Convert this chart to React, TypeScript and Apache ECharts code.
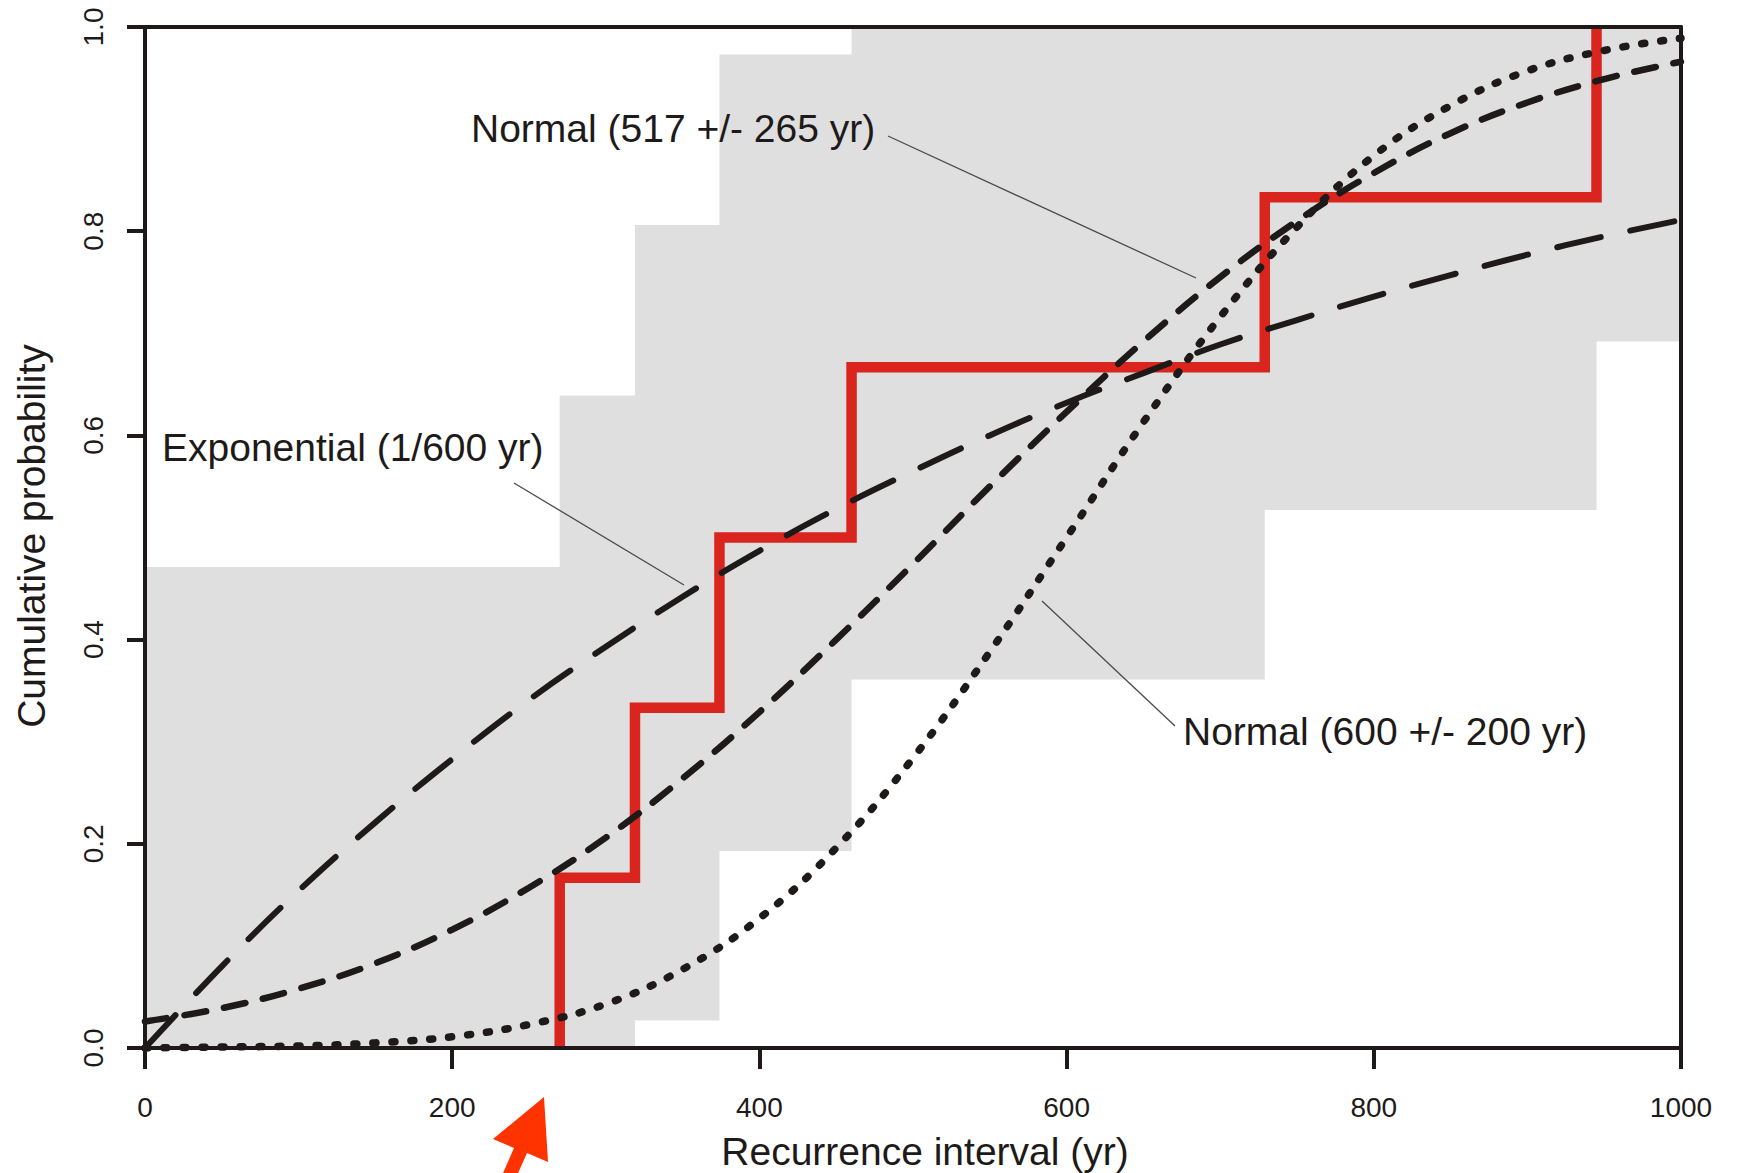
import React, { useEffect, useRef } from "react";
import * as echarts from "echarts";

// ---- data ----
const xGrid = [0, 50, 100, 150, 200, 250, 300, 350, 400, 450, 500, 550, 600, 650, 700, 750, 800, 850, 900, 950, 1000];
const exponentialCdf = [0, 0.08, 0.154, 0.221, 0.283, 0.341, 0.393, 0.442, 0.487, 0.528, 0.565, 0.6, 0.632, 0.661, 0.689, 0.713, 0.736, 0.757, 0.777, 0.795, 0.811];
const normal517Cdf = [0.026, 0.039, 0.058, 0.083, 0.116, 0.157, 0.206, 0.264, 0.329, 0.4, 0.474, 0.55, 0.623, 0.692, 0.755, 0.81, 0.857, 0.896, 0.926, 0.949, 0.966];
const normal600Cdf = [0.0, 0.001, 0.002, 0.005, 0.011, 0.023, 0.043, 0.077, 0.127, 0.196, 0.284, 0.388, 0.5, 0.613, 0.716, 0.804, 0.874, 0.923, 0.957, 0.977, 0.989];

const eventIntervals = [270, 319, 374, 460, 729, 945];
const ecdfLevels = [1 / 6, 2 / 6, 3 / 6, 4 / 6, 5 / 6, 1];

const bandUpperX = [0, 270, 319, 374, 460, 1000];
const bandUpperY = [0.471, 0.639, 0.806, 0.973, 1, 1];
const bandLowerX = [0, 319, 374, 460, 729, 945, 1000];
const bandLowerY = [0, 0.027, 0.193, 0.361, 0.527, 0.692, 0.692];

const labelNormal517 = "Normal (517 +/- 265 yr)";
const labelExponential = "Exponential (1/600 yr)";
const labelNormal600 = "Normal (600 +/- 200 yr)";
const xTitle = "Recurrence interval (yr)";
const yTitle = "Cumulative probability";

const ink = "#1e1a19";
const red = "#d9251d";
const grey = "#dfdfdf";
const font = "'Liberation Sans', Arial, Helvetica, sans-serif";

const zip = (xs: number[], ys: number[]) => xs.map((x, i) => [x, ys[i]]);

export default function App() {
  const ref = useRef<HTMLDivElement>(null);

  useEffect(() => {
    if (!ref.current) return;
    const chart = echarts.init(ref.current, undefined, { renderer: "svg" });

    const ecdfData = [[eventIntervals[0], 0], ...zip(eventIntervals, ecdfLevels)];

    const axisCommon = {
      splitLine: { show: false },
      z: 10,
    };

    const option: any = {
      animation: false,
      backgroundColor: "#ffffff",
      grid: { left: 145, top: 27, right: 58, bottom: 125, containLabel: false },
      xAxis: [
        {
          ...axisCommon,
          type: "value",
          position: "bottom",
          min: 0,
          max: 1000,
          interval: 200,
          axisLine: { show: true, onZero: false, lineStyle: { color: ink, width: 4 } },
          axisTick: { show: true, length: 21, lineStyle: { color: ink, width: 4 } },
          axisLabel: {
            margin: 45,
            fontSize: 28,
            color: ink,
            fontFamily: font,
            formatter: (v: number) => String(Math.round(v)),
          },
        },
        {
          ...axisCommon,
          type: "value",
          position: "top",
          min: 0,
          max: 1000,
          axisLine: { show: true, onZero: false, lineStyle: { color: ink, width: 4 } },
          axisTick: { show: false },
          axisLabel: { show: false },
        },
      ],
      yAxis: [
        {
          ...axisCommon,
          type: "value",
          position: "left",
          min: 0,
          max: 1,
          interval: 0.2,
          axisLine: { show: true, onZero: false, lineStyle: { color: ink, width: 4 } },
          axisTick: { show: true, length: 18, lineStyle: { color: ink, width: 4 } },
          axisLabel: {
            rotate: 90,
            margin: 38,
            fontSize: 28,
            color: ink,
            fontFamily: font,
            formatter: (v: number) => v.toFixed(1),
          },
        },
        {
          ...axisCommon,
          type: "value",
          position: "right",
          min: 0,
          max: 1,
          axisLine: { show: true, onZero: false, lineStyle: { color: ink, width: 4 } },
          axisTick: { show: false },
          axisLabel: { show: false },
        },
      ],
      series: [
        {
          name: "band upper",
          type: "line",
          step: "end",
          data: zip(bandUpperX, bandUpperY),
          symbol: "none",
          lineStyle: { width: 0, opacity: 0 },
          areaStyle: { color: grey, opacity: 1 },
          z: 1,
          silent: true,
        },
        {
          name: "band lower",
          type: "line",
          step: "end",
          data: zip(bandLowerX, bandLowerY),
          symbol: "none",
          lineStyle: { width: 0, opacity: 0 },
          areaStyle: { color: "#ffffff", opacity: 1 },
          z: 2,
          silent: true,
        },
        {
          name: "ECDF",
          type: "line",
          step: "end",
          data: ecdfData,
          symbol: "none",
          lineStyle: { color: red, width: 10.5, join: "miter", cap: "butt" },
          z: 3,
        },
        {
          name: "Exponential",
          type: "line",
          smooth: 0.4,
          data: zip(xGrid, exponentialCdf),
          symbol: "none",
          lineStyle: { color: ink, width: 6, type: [45, 30], cap: "round" },
          z: 4,
        },
        {
          name: "Normal 517",
          type: "line",
          smooth: 0.4,
          data: zip(xGrid, normal517Cdf),
          symbol: "none",
          lineStyle: { color: ink, width: 6.5, type: [22, 18], cap: "round" },
          z: 4,
        },
        {
          name: "Normal 600",
          type: "line",
          smooth: 0.4,
          data: zip(xGrid, normal600Cdf),
          symbol: "none",
          lineStyle: { color: ink, width: 7.5, type: [3, 16], cap: "round" },
          z: 4,
        },
      ],
      graphic: [
        {
          type: "line",
          shape: { x1: 888, y1: 136, x2: 1196, y2: 278 },
          style: { stroke: "#4a4a4a", lineWidth: 1.3 },
          z: 20,
        },
        {
          type: "line",
          shape: { x1: 514, y1: 483, x2: 684, y2: 585 },
          style: { stroke: "#4a4a4a", lineWidth: 1.3 },
          z: 20,
        },
        {
          type: "line",
          shape: { x1: 1042, y1: 601, x2: 1175, y2: 726 },
          style: { stroke: "#4a4a4a", lineWidth: 1.3 },
          z: 20,
        },
        {
          type: "text",
          x: 471,
          y: 128,
          style: { text: labelNormal517, fill: ink, font: `39px ${font}`, align: "left", verticalAlign: "middle" },
          z: 20,
        },
        {
          type: "text",
          x: 162,
          y: 447,
          style: { text: labelExponential, fill: ink, font: `39px ${font}`, align: "left", verticalAlign: "middle" },
          z: 20,
        },
        {
          type: "text",
          x: 1183,
          y: 731,
          style: { text: labelNormal600, fill: ink, font: `39px ${font}`, align: "left", verticalAlign: "middle" },
          z: 20,
        },
        {
          type: "text",
          x: 925,
          y: 1151,
          style: { text: xTitle, fill: ink, font: `39px ${font}`, align: "center", verticalAlign: "middle" },
          z: 20,
        },
        {
          type: "text",
          x: 31,
          y: 536,
          rotation: Math.PI / 2,
          style: { text: yTitle, fill: ink, font: `39px ${font}`, align: "center", verticalAlign: "middle" },
          z: 20,
        },
        {
          type: "polygon",
          shape: {
            points: [
              [544, 1097],
              [548, 1162],
              [527, 1153],
              [515, 1180],
              [500, 1180],
              [514, 1148],
              [493, 1139],
            ],
          },
          style: { fill: "#ff3300" },
          z: 20,
        },
      ],
    };

    chart.setOption(option);
    return () => {
      chart.dispose();
    };
  }, []);

  return (
    <div
      ref={ref}
      style={{ position: "absolute", left: 0, top: 0, width: 1739, height: 1173, background: "#fff" }}
    />
  );
}
